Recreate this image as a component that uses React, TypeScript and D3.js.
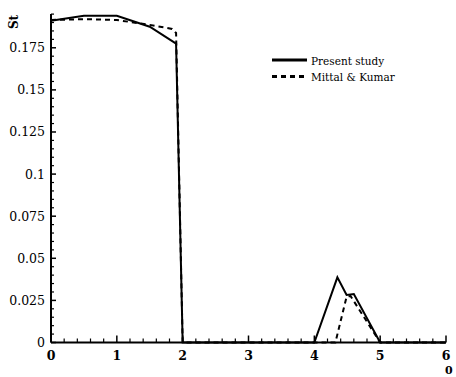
import React from "react";
import { scaleLinear, line, range } from "d3";

const presentX = [0, 0.5, 1.0, 1.5, 1.9, 2.0, 3.0, 4.0, 4.35, 4.49, 4.6, 5.0, 6.0];
const presentSt = [0.191, 0.194, 0.194, 0.1875, 0.1775, 0, 0, 0, 0.0387, 0.0282, 0.0288, 0, 0];
const mittalX = [0, 0.5, 1.0, 1.5, 1.84, 1.9, 2.0, 3.0, 4.32, 4.49, 4.55, 5.0, 6.0];
const mittalSt = [0.1915, 0.192, 0.1915, 0.1886, 0.1862, 0.1838, 0, 0, 0, 0.0272, 0.0276, 0, 0];
const xTicks = [0, 1, 2, 3, 4, 5, 6];
const yTicks = [0, 0.025, 0.05, 0.075, 0.1, 0.125, 0.15, 0.175];
const yTickLabels = ["0", "0.025", "0.05", "0.075", "0.1", "0.125", "0.15", "0.175"];
const legendNames = ["Present study", "Mittal & Kumar"];

const W = 456;
const H = 377;
const FONT = "DejaVu Serif";

export default function App() {
  const x = scaleLinear().domain([0, 6]).range([51, 446]);
  const y = scaleLinear().domain([0, 0.195]).range([342.5, 14.1]);

  const mk = (xs: number[], ys: number[]) =>
    line<number>()
      .x((_, i) => x(xs[i]))
      .y((_, i) => y(ys[i]))(xs.map((_, i) => i)) ?? "";

  const xMinor = range(0, 6.001, 0.2).filter((v) => Math.abs(v - Math.round(v)) > 1e-6);
  const yMinor = range(0, 0.1951, 0.005).filter(
    (v) => Math.abs(v / 0.025 - Math.round(v / 0.025)) > 1e-6
  );

  return (
    <div style={{ position: "fixed", left: 0, top: 0 }}>
      <svg width={W} height={H} style={{ display: "block", background: "#fff" }}>
        {/* curves */}
        <path d={mk(presentX, presentSt)} fill="none" stroke="#000" strokeWidth={2} />
        <path
          d={mk(mittalX, mittalSt)}
          fill="none"
          stroke="#000"
          strokeWidth={2}
          strokeDasharray="5,4"
        />

        {/* axes */}
        <line x1={x(0)} x2={x(6)} y1={y(0)} y2={y(0)} stroke="#000" strokeWidth={2} />
        <line x1={x(0)} x2={x(0)} y1={y(0)} y2={y(0.195)} stroke="#000" strokeWidth={2} />

        {xTicks.map((t) => (
          <g key={"xt" + t}>
            <line x1={x(t)} x2={x(t)} y1={y(0)} y2={y(0) - 7} stroke="#000" strokeWidth={1.5} />
            <text x={x(t)} y={360} textAnchor="middle" fontFamily={FONT} fontSize={12.5} fontWeight="bold">
              {t}
            </text>
          </g>
        ))}
        {xMinor.map((t, i) => (
          <line key={"xm" + i} x1={x(t)} x2={x(t)} y1={y(0)} y2={y(0) - 4} stroke="#000" strokeWidth={1.2} />
        ))}

        {yTicks.map((t, i) => (
          <g key={"yt" + i}>
            <line x1={x(0)} x2={x(0) + 5} y1={y(t)} y2={y(t)} stroke="#000" strokeWidth={1.5} />
            <text x={45} y={y(t) + 4.5} textAnchor="end" fontFamily={FONT} fontSize={12.5}>
              {yTickLabels[i]}
            </text>
          </g>
        ))}
        {yMinor.map((t, i) => (
          <line key={"ym" + i} x1={x(0)} x2={x(0) + 3} y1={y(t)} y2={y(t)} stroke="#000" strokeWidth={1.2} />
        ))}

        {/* axis titles */}
        <text
          transform="translate(18,22) rotate(-90)"
          textAnchor="middle"
          fontFamily={FONT}
          fontSize={12}
          fontWeight="bold"
        >
          St
        </text>
        <text x={445} y={374} fontFamily={FONT} fontSize={11} fontWeight="bold">
          0
        </text>

        {/* legend */}
        <line x1={272} x2={307} y1={60} y2={60} stroke="#000" strokeWidth={3} />
        <line x1={272} x2={307} y1={76.5} y2={76.5} stroke="#000" strokeWidth={3} strokeDasharray="5,4" />
        {legendNames.map((n, i) => (
          <text key={n} x={311} y={64.5 + i * 16.5} fontFamily={FONT} fontSize={10.5}>
            {n}
          </text>
        ))}
      </svg>
    </div>
  );
}
